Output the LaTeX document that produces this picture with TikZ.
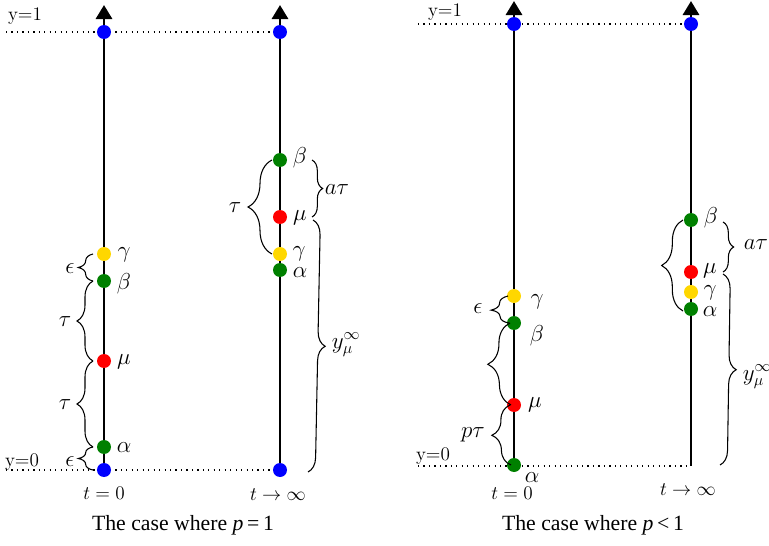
\documentclass[tikz,border=0pt]{standalone}
\usepackage{fontspec}
\newfontfamily\capfont{Liberation Serif}
\usetikzlibrary{arrows.meta,decorations.pathreplacing,calc}
\definecolor{dgreen}{RGB}{0,128,0}
\definecolor{dyellow}{RGB}{255,215,0}
\begin{document}
\begin{tikzpicture}[x=0.75pt,y=-0.75pt,
  axisline/.style={line width=2.2pt,-{Triangle[width=12pt,length=10.5pt]}},
  dotline/.style={dash pattern=on 0.9pt off 3.2pt,line width=0.8pt},
  dotnode/.style={circle,inner sep=0pt,minimum size=10.5pt},
  bl/.style={dotnode,fill=blue},
  rd/.style={dotnode,fill=red},
  gr/.style={dotnode,fill=dgreen},
  ye/.style={dotnode,fill=dyellow},
  brc/.style={decorate,decoration={brace,amplitude=#1},line width=0.8pt},
  lab/.style={font=\LARGE,inner sep=0pt},
  tlab/.style={font=\Large,inner sep=0pt},
  captext/.style={font=\capfont\fontsize{16.3}{19}\selectfont,inner sep=0pt}
]
\useasboundingbox (0,0) rectangle (769,546);

% ---------------- left figure ----------------
\coordinate (tipA) at (104,5);
\coordinate (tipB) at (280,5);
\coordinate (dA1) at (6,32);
\coordinate (dA2) at (280,32);
\coordinate (dA3) at (6,470);
\coordinate (dA4) at (280,470);
\draw[dotline] (dA1) -- (dA2);
\draw[dotline] (dA3) -- (dA4);
\node[tlab] (y1a) at (25,16) {y=1};
\node[tlab] (y0a) at (22,462) {y=0};

\coordinate (baseA) at (104,470);
\coordinate (baseB) at (280,470);
\draw[axisline] (baseA) -- (tipA);
\draw[axisline] (baseB) -- (tipB);

\node[bl] (a1) at (104,32) {};
\node[ye] (ag) at (104,254) {};
\node[gr] (ab) at (104,281) {};
\node[rd] (am) at (104,361) {};
\node[gr] (aa) at (104,447) {};
\node[bl] (a0) at (104,470) {};

\node[lab] at (124,255) {$\gamma$};
\node[lab] at (124,284) {$\beta$};
\node[lab] at (124,362) {$\mu$};
\node[lab] at (124,448) {$\alpha$};

\draw[brc=11pt] ($(ab)+(-11,0)$) -- ($(ag)+(-11,0)$);
\draw[brc=12pt] ($(am)+(-11,0)$) -- ($(ab)+(-11,0)$);
\draw[brc=12pt] ($(aa)+(-11,0)$) -- ($(am)+(-11,0)$);
\draw[brc=11pt] ($(a0)+(-11,0)$) -- ($(aa)+(-11,0)$);
\node[lab] at (70,269) {$\epsilon$};
\node[lab] at (65,322) {$\tau$};
\node[lab] at (65,405) {$\tau$};
\node[lab] at (70,462) {$\epsilon$};
\node[tlab] (ta) at (104,493) {$t=0$};

\node[bl] (b1) at (280,32) {};
\node[gr] (bb) at (280,160) {};
\node[rd] (bm) at (280,217) {};
\node[ye] (bg) at (280,254) {};
\node[gr] (ba) at (280,270) {};
\node[bl] (b0) at (280,470) {};

\node[lab] at (300,158) {$\beta$};
\node[lab] at (300,218) {$\mu$};
\node[lab] at (299,254) {$\gamma$};
\node[lab] at (300,273) {$\alpha$};

\draw[brc=18pt] ($(bg)+(-8,0)$) -- ($(bb)+(-8,0)$);
\node[lab] at (235,208) {$\tau$};
\draw[brc=8pt] ($(bb)+(32,0)$) -- ($(bm)+(32,0)$);
\node[lab] at (337,190) {$a\tau$};
\draw[brc=11pt] ($(bm)+(33,3)$) -- ($(b0)+(28,2)$);
\node[lab] at (346,345) {$y_\mu^\infty$};
\node[tlab] (tb) at (278,495) {$t\to\infty$};

\node[captext] (capA) at (183,525) {The case where \textit{p}\,=\,1};

% ---------------- right figure ----------------
\coordinate (tipC) at (514,1);
\coordinate (tipD) at (691,1);
\coordinate (dC1) at (418,24);
\coordinate (dC2) at (691,24);
\coordinate (dC3) at (418,466);
\coordinate (dC4) at (691,466);
\draw[dotline] (dC1) -- (dC2);
\draw[dotline] (dC3) -- (dC4);
\node[tlab] (y1c) at (445,12) {y=1};
\node[tlab] (y0c) at (433,456) {y=0};

\coordinate (baseC) at (514,466);
\coordinate (baseD) at (691,466);
\draw[axisline] (baseC) -- (tipC);
\draw[axisline] (baseD) -- (tipD);

\node[bl] (c1) at (514,24) {};
\node[ye] (cg) at (514,296) {};
\node[gr] (cb) at (514,323) {};
\node[rd] (cm) at (514,405) {};
\node[gr] (ca) at (514,465) {};

\node[lab] at (537,302) {$\gamma$};
\node[lab] at (537,336) {$\beta$};
\node[lab] at (535,405) {$\mu$};
\node[lab] at (532,478) {$\alpha$};

\draw[brc=13pt] ($(cb)+(-5,0)$) -- ($(cg)+(-6,0)$);
\draw[brc=17pt] ($(cm)+(-3,0)$) -- ($(cb)+(-4,0)$);
\draw[brc=14pt] ($(ca)+(-3,0)$) -- ($(cm)+(-4,0)$);
\node[lab] at (478,309) {$\epsilon$};
\node[lab] at (473,435) {$p\tau$};
\node[tlab] (tc) at (512,493) {$t=0$};

\node[bl] (d1) at (691,24) {};
\node[gr] (db) at (691,220) {};
\node[rd] (dm) at (691,272) {};
\node[ye] (dg) at (691,292) {};
\node[gr] (da) at (691,309) {};

\node[lab] at (711,218) {$\beta$};
\node[lab] at (710,271) {$\mu$};
\node[lab] at (710,293) {$\gamma$};
\node[lab] at (710,312) {$\alpha$};

\draw[brc=16pt] ($(da)+(-8,2)$) -- ($(db)+(-8,0)$);
\draw[brc=8pt] ($(db)+(32,2)$) -- ($(dm)+(32,0)$);
\node[lab] at (756,245) {$a\tau$};
\draw[brc=11pt] ($(dm)+(32,2)$) -- ($(baseD)+(29,-1)$);
\node[lab] at (757,377) {$y_\mu^\infty$};
\node[tlab] (td) at (688,490) {$t\to\infty$};

\node[captext] (capC) at (593,525) {The case where \textit{p}\,<\,1};
\end{tikzpicture}
\end{document}
